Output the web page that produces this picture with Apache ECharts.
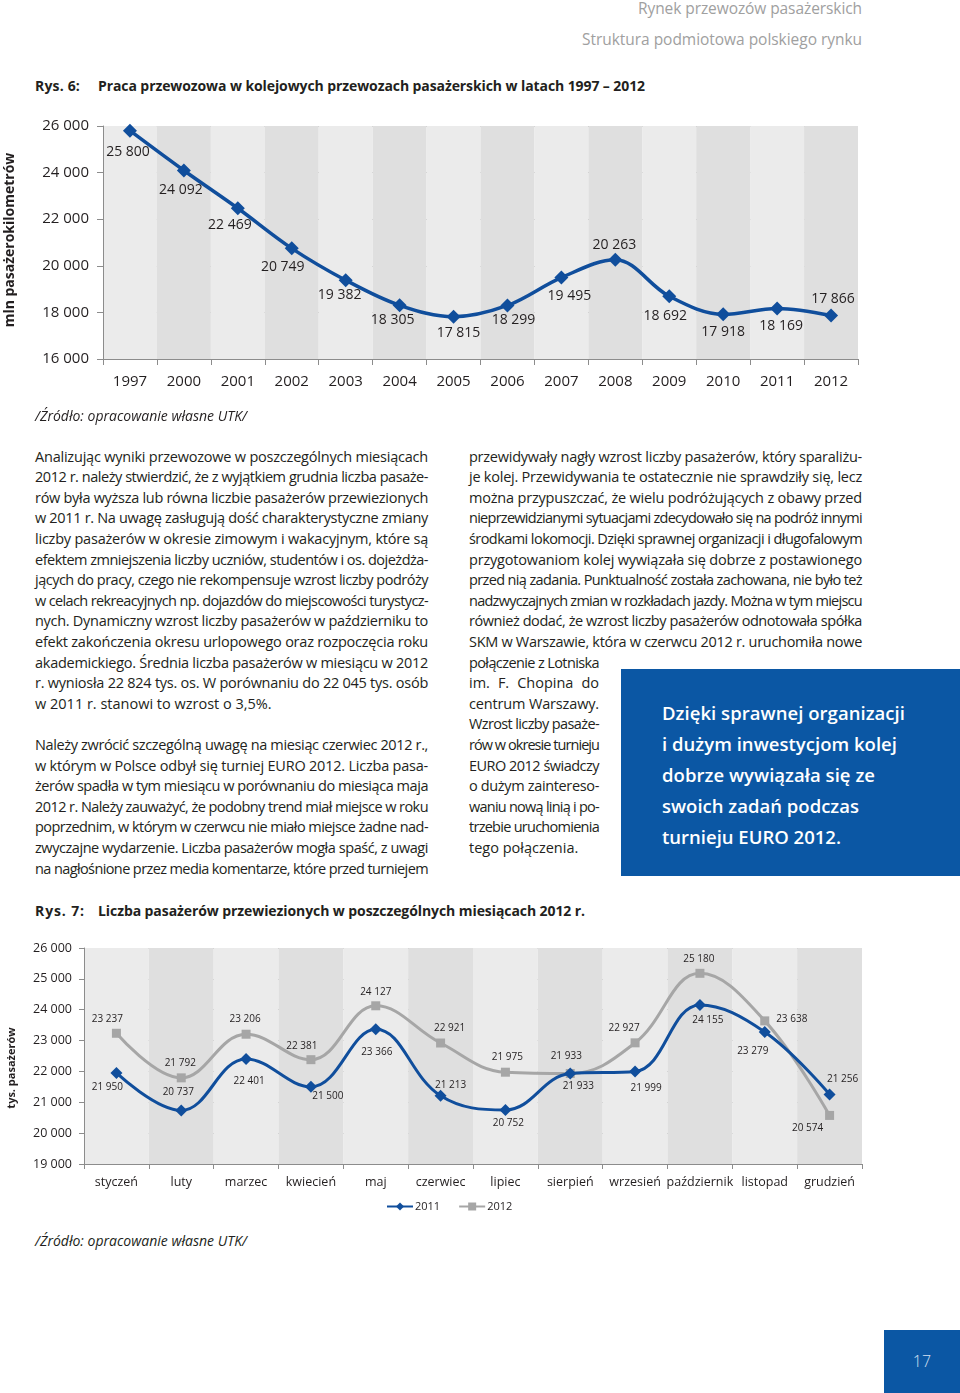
<!DOCTYPE html>
<html><head><meta charset="utf-8">
<script src="https://cdn.jsdelivr.net/npm/echarts@6/dist/echarts.min.js"></script>
<style>
html,body{margin:0;padding:0;background:#fff;}
body{width:960px;height:1393px;position:relative;overflow:hidden;font-family:'Open Sans',sans-serif;color:#231f20;}
.abs{position:absolute;white-space:nowrap;}
.col{position:absolute;font-size:14.5px;line-height:20.6px;}
.col div{height:20.6px;white-space:nowrap;}
.fit > span, .col div > span{white-space:nowrap;display:inline-block;}
.hdr{color:#a0a0a0;font-size:15.5px;font-weight:400;}
.ttl{font-size:14px;font-weight:700;}
.src{font-size:14px;font-style:italic;}
#box{position:absolute;left:621px;top:669px;width:339px;height:207px;background:#0b57a4;}
.bx{position:absolute;left:662px;color:#fff;font-size:18.5px;font-weight:600;line-height:31px;height:31px;}
#pg{position:absolute;left:884px;top:1330px;width:76px;height:63px;background:#0b57a4;color:#d5e1f3;font-size:16px;font-weight:300;text-align:center;line-height:63px;}
</style></head>
<body>
<div class="abs hdr fit" data-w="224" data-mode="ls" style="right:98px;top:-3px;line-height:22px;"><span>Rynek przewozów pasażerskich</span></div>
<div class="abs hdr fit" data-w="280" data-mode="ls" style="right:98px;top:28px;line-height:22px;"><span>Struktura podmiotowa polskiego rynku</span></div>

<div class="abs ttl fit" data-w="45" data-mode="ls" style="left:35px;top:75px;line-height:22px;"><span>Rys. 6:</span></div>
<div class="abs ttl fit" data-w="547" data-mode="ls" style="left:98px;top:75px;line-height:22px;"><span>Praca przewozowa w kolejowych przewozach pasażerskich w latach 1997 – 2012</span></div>

<div id="c1" style="position:absolute;left:0;top:100px;width:960px;height:310px;"></div>

<div class="abs src fit" data-w="212" data-mode="ls" style="left:35px;top:405px;line-height:22px;"><span>/Źródło: opracowanie własne UTK/</span></div>

<div class="col" style="left:35px;top:446.7px;width:393px;">
<div><span>Analizując wyniki przewozowe w poszczególnych miesiącach</span></div>
<div><span>2012 r. należy stwierdzić, że z wyjątkiem grudnia liczba pasaże-</span></div>
<div><span>rów była wyższa lub równa liczbie pasażerów przewiezionych</span></div>
<div><span>w 2011 r. Na uwagę zasługują dość charakterystyczne zmiany</span></div>
<div><span>liczby pasażerów w okresie zimowym i wakacyjnym, które są</span></div>
<div><span>efektem zmniejszenia liczby uczniów, studentów i os. dojeżdża-</span></div>
<div><span>jących do pracy, czego nie rekompensuje wzrost liczby podróży</span></div>
<div><span>w celach rekreacyjnych np. dojazdów do miejscowości turystycz-</span></div>
<div><span>nych. Dynamiczny wzrost liczby pasażerów w październiku to</span></div>
<div><span>efekt zakończenia okresu urlopowego oraz rozpoczęcia roku</span></div>
<div><span>akademickiego. Średnia liczba pasażerów w miesiącu w 2012</span></div>
<div><span>r. wyniosła 22 824 tys. os. W porównaniu do 22 045 tys. osób</span></div>
<div class="last"><span>w 2011 r. stanowi to wzrost o 3,5%.</span></div>
<div class="last"></div>
<div><span>Należy zwrócić szczególną uwagę na miesiąc czerwiec 2012 r.,</span></div>
<div><span>w którym w Polsce odbył się turniej EURO 2012. Liczba pasa-</span></div>
<div><span>żerów spadła w tym miesiącu w porównaniu do miesiąca maja</span></div>
<div><span>2012 r. Należy zauważyć, że podobny trend miał miejsce w roku</span></div>
<div><span>poprzednim, w którym w czerwcu nie miało miejsce żadne nad-</span></div>
<div><span>zwyczajne wydarzenie. Liczba pasażerów mogła spaść, z uwagi</span></div>
<div><span>na nagłośnione przez media komentarze, które przed turniejem</span></div>
</div>

<div class="col" style="left:469px;top:446.7px;width:393px;">
<div><span>przewidywały nagły wzrost liczby pasażerów, który sparaliżu-</span></div>
<div><span>je kolej. Przewidywania te ostatecznie nie sprawdziły się, lecz</span></div>
<div><span>można przypuszczać, że wielu podróżujących z obawy przed</span></div>
<div><span>nieprzewidzianymi sytuacjami zdecydowało się na podróż innymi</span></div>
<div><span>środkami lokomocji. Dzięki sprawnej organizacji i długofalowym</span></div>
<div><span>przygotowaniom kolej wywiązała się dobrze z postawionego</span></div>
<div><span>przed nią zadania. Punktualność została zachowana, nie było też</span></div>
<div><span>nadzwyczajnych zmian w rozkładach jazdy. Można w tym miejscu</span></div>
<div><span>również dodać, że wzrost liczby pasażerów odnotowała spółka</span></div>
<div><span>SKM w Warszawie, która w czerwcu 2012 r. uruchomiła nowe</span></div>
</div>
<div class="col" style="left:469px;top:652.7px;width:130px;">
<div><span>połączenie z Lotniska</span></div>
<div><span>im. F. Chopina do</span></div>
<div><span>centrum Warszawy.</span></div>
<div><span>Wzrost liczby pasaże-</span></div>
<div><span>rów w okresie turnieju</span></div>
<div><span>EURO 2012 świadczy</span></div>
<div><span>o dużym zaintereso-</span></div>
<div><span>waniu nową linią i po-</span></div>
<div><span>trzebie uruchomienia</span></div>
<div class="last"><span>tego połączenia.</span></div>
</div>

<div id="box"></div>
<div class="bx fit" data-w="243" data-mode="ls" style="top:696.5px;"><span>Dzięki sprawnej organizacji</span></div>
<div class="bx fit" data-w="235" data-mode="ls" style="top:727.5px;"><span>i dużym inwestycjom kolej</span></div>
<div class="bx fit" data-w="213" data-mode="ls" style="top:758.5px;"><span>dobrze wywiązała się ze</span></div>
<div class="bx fit" data-w="197" data-mode="ls" style="top:789.5px;"><span>swoich zadań podczas</span></div>
<div class="bx fit" data-w="179" data-mode="ls" style="top:820.5px;"><span>turnieju EURO 2012.</span></div>

<div class="abs ttl fit" data-w="50" data-mode="ls" style="left:35px;top:900px;line-height:22px;"><span>Rys. 7:</span></div>
<div class="abs ttl fit" data-w="487" data-mode="ls" style="left:98px;top:900px;line-height:22px;"><span>Liczba pasażerów przewiezionych w poszczególnych miesiącach 2012 r.</span></div>

<div id="c2" style="position:absolute;left:0;top:930px;width:960px;height:300px;"></div>

<div class="abs src fit" data-w="212" data-mode="ls" style="left:35px;top:1230px;line-height:22px;"><span>/Źródło: opracowanie własne UTK/</span></div>

<div id="pg">17</div>

<script>
// ---- data ----
const years = ['1997','2000','2001','2002','2003','2004','2005','2006','2007','2008','2009','2010','2011','2012'];
const workValues = [25800,24092,22469,20749,19382,18305,17815,18299,19495,20263,18692,17918,18169,17866];
const workTicks = [16000,18000,20000,22000,24000,26000];

const months = ['styczeń','luty','marzec','kwiecień','maj','czerwiec','lipiec','sierpień','wrzesień','październik','listopad','grudzień'];
const passengers2011 = [21950,20737,22401,21500,23366,21213,20752,21933,21999,24155,23279,21256];
const passengers2012 = [23237,21792,23206,22381,24127,22921,21975,21933,22927,25180,23638,20574];
const passTicks = [19000,20000,21000,22000,23000,24000,25000,26000];

// ---- label placement (style) ----
const workLabelOffsets = [[-2,21],[-3,20],[-8,17],[-9,19],[-6,15],[-7,15],[5,16],[6,15],[8,18],[-1,-15],[-4,20],[0,18],[4,18],[2,-17]];
const off2011 = [[-9,14],[-3,-18],[3,22],[17,9],[1,23],[10,-11],[3,13],[8,13],[11,17],[8,15],[-12,19],[13,-15]];
const off2012 = [[-9,-14],[-1,-15],[-1,-15],[-9,-14],[0,-14],[9,-15],[2,-15],[-4,-17],[-11,-15],[-1,-14],[27,-2],[-22,13]];

const fmt = v => String(v).replace(/\B(?=(\d{3})+(?!\d))/g, ' ');
const BLUE = '#104e9c', GREY = '#a6a6a6', AXIS = '#8c8c8c', GRID = '#a2a2a2', TXT = '#231f20';
const FONT = 'Open Sans';

function mkData(vals, offs) {
  return vals.map((v, i) => ({value: v, label: {offset: offs[i]}}));
}

const c1 = echarts.init(document.getElementById('c1'), null, {renderer: 'canvas'});
c1.setOption({
  animation: false,
  textStyle: {fontFamily: FONT, color: TXT},
  grid: {left: 103, top: 26, width: 755, height: 233},
  graphic: [{type: 'text', x: 10, y: 140, rotation: Math.PI / 2,
    style: {text: 'mln pasażerokilometrów', fontSize: 14, fontWeight: 'bold', fontFamily: FONT, fill: TXT, align: 'center', verticalAlign: 'middle'}}],
  xAxis: {type: 'category', data: years, boundaryGap: true,
    axisLine: {lineStyle: {color: AXIS, width: 1}},
    axisTick: {show: true, length: 6, lineStyle: {color: AXIS}},
    axisLabel: {interval: 0, fontSize: 15, color: TXT, margin: 15, fontFamily: FONT},
    splitArea: {show: true, areaStyle: {color: ['#ebebeb', '#dfdfdf']}}},
  yAxis: {type: 'value', min: workTicks[0], max: workTicks[workTicks.length - 1], interval: 2000,
    axisLine: {show: true, lineStyle: {color: AXIS}},
    axisTick: {show: true, length: 6, lineStyle: {color: AXIS}},
    axisLabel: {fontSize: 15, color: TXT, margin: 14, formatter: fmt, fontFamily: FONT},
    splitLine: {lineStyle: {color: GRID, width: 1}}},
  series: [{type: 'line', data: mkData(workValues, workLabelOffsets), smooth: 0.35,
    lineStyle: {color: BLUE, width: 3.5}, itemStyle: {color: BLUE},
    symbol: 'diamond', symbolSize: 14, showAllSymbol: true,
    label: {show: true, position: 'inside', align: 'center', verticalAlign: 'middle', fontSize: 14, color: TXT, fontFamily: FONT, formatter: p => fmt(p.value)}}]
});

const c2 = echarts.init(document.getElementById('c2'), null, {renderer: 'canvas'});
const lblBase = {show: true, position: 'inside', align: 'center', verticalAlign: 'middle', fontSize: 10, color: TXT, fontFamily: FONT, formatter: p => fmt(p.value)};
c2.setOption({
  animation: false,
  textStyle: {fontFamily: FONT, color: TXT},
  grid: {left: 84, top: 18, width: 778, height: 216},
  graphic: [{type: 'text', x: 12, y: 138, rotation: Math.PI / 2,
    style: {text: 'tys. pasażerów', fontSize: 11, fontWeight: 'bold', fontFamily: FONT, fill: TXT, align: 'center', verticalAlign: 'middle'}}],
  legend: {data: ['2011', '2012'], left: 381, top: 266, itemWidth: 26, itemHeight: 10, itemGap: 18,
    textStyle: {fontSize: 11, color: TXT, fontFamily: FONT, padding: [0, 0, 0, -3]}},
  xAxis: {type: 'category', data: months, boundaryGap: true,
    axisLine: {lineStyle: {color: AXIS}},
    axisTick: {show: true, length: 5, lineStyle: {color: AXIS}},
    axisLabel: {interval: 0, fontSize: 12.5, color: TXT, margin: 12, fontFamily: FONT},
    splitArea: {show: true, areaStyle: {color: ['#ebebeb', '#dfdfdf']}}},
  yAxis: {type: 'value', min: passTicks[0], max: passTicks[passTicks.length - 1], interval: 1000,
    axisLine: {show: true, lineStyle: {color: AXIS}},
    axisTick: {show: true, length: 5, lineStyle: {color: AXIS}},
    axisLabel: {fontSize: 12.5, color: TXT, margin: 12, formatter: fmt, fontFamily: FONT},
    splitLine: {lineStyle: {color: GRID, width: 1}}},
  series: [
    {name: '2012', type: 'line', data: mkData(passengers2012, off2012), smooth: 0.4,
      lineStyle: {color: GREY, width: 3}, itemStyle: {color: GREY},
      symbol: 'rect', symbolSize: 9, label: lblBase, z: 2},
    {name: '2011', type: 'line', data: mkData(passengers2011, off2011), smooth: 0.4,
      lineStyle: {color: BLUE, width: 3}, itemStyle: {color: BLUE},
      symbol: 'diamond', symbolSize: 12, label: lblBase, z: 3}
  ]
});

function fitAll() {
  const items = [];
  document.querySelectorAll('.fit').forEach(el => items.push({el, w: +el.dataset.w, mode: el.dataset.mode}));
  document.querySelectorAll('.col').forEach(col => {
    const w = parseFloat(col.style.width);
    col.querySelectorAll(':scope > div').forEach(d => items.push({el: d, w, mode: d.classList.contains('last') ? 'last' : 'j'}));
  });
  items.forEach(({el, w, mode}) => {
    const sp = el.querySelector('span');
    if (!sp) return;
    sp.style.letterSpacing = '0px'; sp.style.wordSpacing = '0px';
    const nat = sp.getBoundingClientRect().width;
    const txt = sp.textContent;
    const diff = w - nat;
    const spaces = (txt.match(/ /g) || []).length;
    const chars = txt.length;
    if (mode === 'ls') {
      sp.style.letterSpacing = (diff / chars) + 'px';
    } else if (mode === 'j') {
      if (diff >= 0 && spaces > 0) sp.style.wordSpacing = (diff / spaces) + 'px';
      else sp.style.letterSpacing = (diff / chars) + 'px';
    } else if (mode === 'last') {
      if (diff < 0) sp.style.letterSpacing = (diff / chars) + 'px';
    }
  });
}
fitAll();
if (document.fonts && document.fonts.ready) document.fonts.ready.then(fitAll);
</script>
</body></html>
